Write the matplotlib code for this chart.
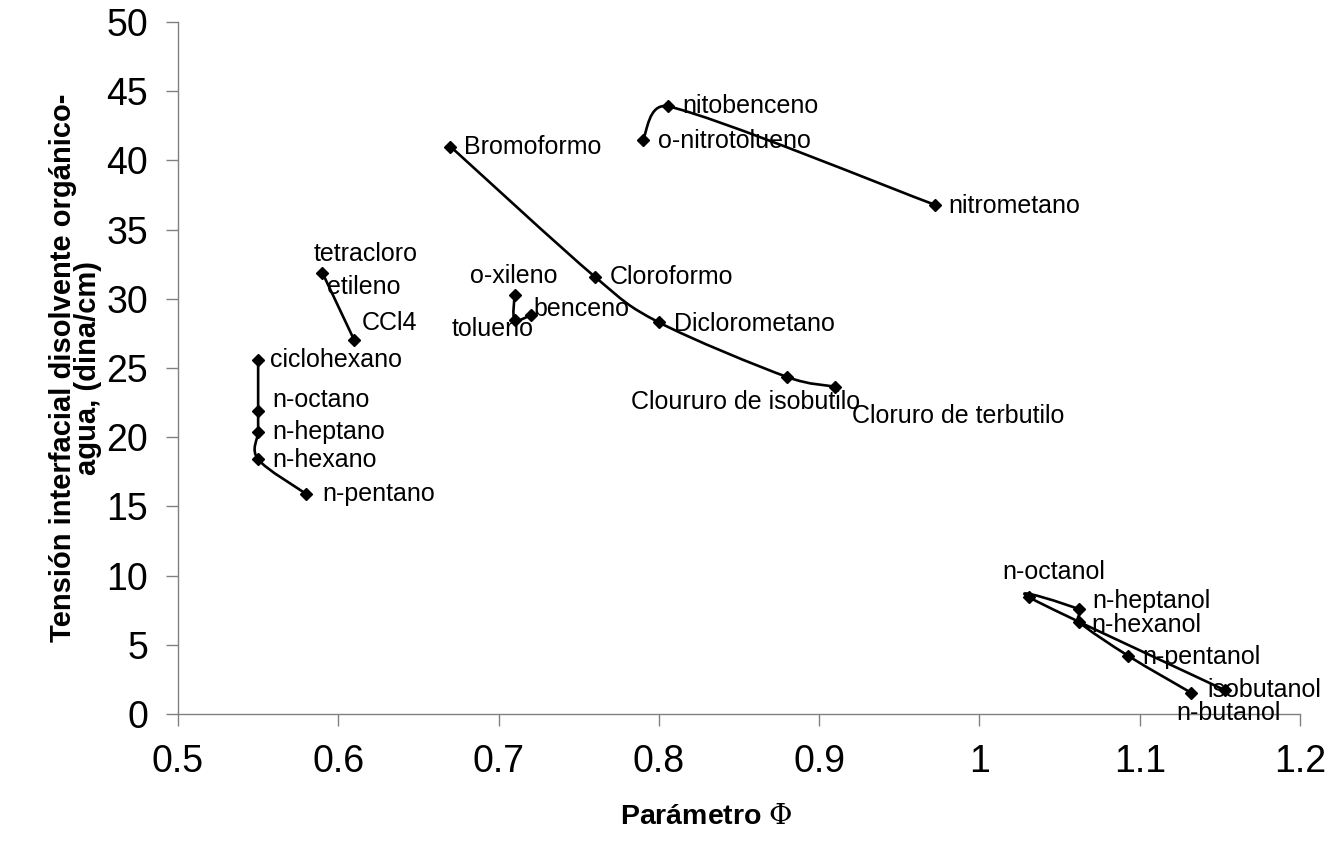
import numpy as np
import matplotlib
matplotlib.use("Agg")
import matplotlib.pyplot as plt
from matplotlib.path import Path
from matplotlib.patches import PathPatch

plt.rcParams['font.family'] = ['Liberation Sans', 'DejaVu Sans']
plt.rcParams['mathtext.fontset'] = 'dejavuserif'

# ---- data: parameter Phi vs. organic solvent / water interfacial tension ----
alkane_names = ["ciclohexano", "n-octano", "n-heptano", "n-hexano", "n-pentano"]
alkane_phi = [0.55, 0.55, 0.55, 0.55, 0.58]
alkane_tension = [25.6, 21.9, 20.4, 18.4, 15.9]

chloroalkene_names = ["tetracloro etileno", "CCl4"]
chloroalkene_phi = [0.59, 0.61]
chloroalkene_tension = [31.9, 27.0]

aromatic_names = ["o-xileno", "tolueno", "benceno"]
aromatic_phi = [0.71, 0.71, 0.72]
aromatic_tension = [30.3, 28.5, 28.8]

halo_names = ["Bromoformo", "Cloroformo", "Diclorometano",
              "Cloururo de isobutilo", "Cloruro de terbutilo"]
halo_phi = [0.67, 0.76, 0.80, 0.88, 0.91]
halo_tension = [41.0, 31.6, 28.3, 24.35, 23.65]

nitro_names = ["o-nitrotolueno", "nitobenceno", "nitrometano"]
nitro_phi = [0.79, 0.806, 0.972]
nitro_tension = [41.5, 43.9, 36.8]

alcohol_names = ["n-butanol", "n-pentanol", "n-hexanol",
                 "n-heptanol", "n-octanol", "isobutanol"]
alcohol_phi = [1.132, 1.093, 1.062, 1.062, 1.031, 1.153]
alcohol_tension = [1.54, 4.19, 6.67, 7.56, 8.43, 1.73]

x_ticks = [0.5, 0.6, 0.7, 0.8, 0.9, 1.0, 1.1, 1.2]
y_ticks = [0, 5, 10, 15, 20, 25, 30, 35, 40, 45, 50]

# ---- label placement (pixel offsets from the marker, y upwards) ----
label_layout = {
    "ciclohexano": [("ciclohexano", 12, 0, "left")],
    "n-octano": [("n-octano", 14, 11, "left")],
    "n-heptano": [("n-heptano", 14, 0, "left")],
    "n-hexano": [("n-hexano", 14, -1, "left")],
    "n-pentano": [("n-pentano", 16, 0, "left")],
    "tetracloro etileno": [("tetracloro", -9, 19, "left"),
                           ("etileno", 5, -14, "left")],
    "CCl4": [("CCl4", 7, 17, "left")],
    "o-xileno": [("o-xileno", -1, 19, "center")],
    "tolueno": [("tolueno", -22, -9, "center")],
    "benceno": [("benceno", 3, 6, "left")],
    "Bromoformo": [("Bromoformo", 14, 0, "left")],
    "Cloroformo": [("Cloroformo", 15, 0, "left")],
    "Diclorometano": [("Diclorometano", 15, -2, "left")],
    "Cloururo de isobutilo": [("Cloururo de isobutilo", -42, -25, "center")],
    "Cloruro de terbutilo": [("Cloruro de terbutilo", 17, -29, "left")],
    "nitobenceno": [("nitobenceno", 14, 0, "left")],
    "o-nitrotolueno": [("o-nitrotolueno", 15, -1, "left")],
    "nitrometano": [("nitrometano", 14, -1, "left")],
    "n-octanol": [("n-octanol", 25, 25, "center")],
    "n-heptanol": [("n-heptanol", 14, 8, "left")],
    "n-hexanol": [("n-hexanol", 13, -3, "left")],
    "n-pentanol": [("n-pentanol", 14, -1, "left")],
    "isobutanol": [("isobutanol", -17, 0, "left")],
    "n-butanol": [("n-butanol", 38, -20, "center")],
}


def smooth_path(ax, xs, ys):
    """Smoothed Bezier path through the points, built in screen space
    (control vectors limited to half of each segment)."""
    pts = ax.transData.transform(np.column_stack([xs, ys]).astype(float))
    n = len(pts)
    verts = [pts[0]]
    codes = [Path.MOVETO]
    for i in range(n - 1):
        p0 = pts[max(i - 1, 0)]
        p1 = pts[i]
        p2 = pts[i + 1]
        p3 = pts[min(i + 2, n - 1)]
        d12 = np.hypot(*(p2 - p1))
        d02 = np.hypot(*(p2 - p0))
        d13 = np.hypot(*(p3 - p1))
        f1 = min(1 / 6, 0.5 * d12 / d02) if d02 > 0 else 0
        f2 = min(1 / 6, 0.5 * d12 / d13) if d13 > 0 else 0
        c1 = p1 + (p2 - p0) * f1
        c2 = p2 - (p3 - p1) * f2
        verts += [c1, c2, p2]
        codes += [Path.CURVE4] * 3
    data_verts = ax.transData.inverted().transform(np.array(verts))
    return Path(data_verts, codes)


fig = plt.figure(figsize=(13.44, 8.48), dpi=100)
ax = fig.add_axes([178 / 1344, 1 - 714 / 848, 1122 / 1344, 692 / 848])
ax.set_xlim(0.5, 1.2)
ax.set_ylim(0, 50)

groups = [
    (alkane_names, alkane_phi, alkane_tension),
    (chloroalkene_names, chloroalkene_phi, chloroalkene_tension),
    (aromatic_names, aromatic_phi, aromatic_tension),
    (halo_names, halo_phi, halo_tension),
    (nitro_names, nitro_phi, nitro_tension),
    (alcohol_names, alcohol_phi, alcohol_tension),
]

for names, xs, ys in groups:
    ax.add_patch(PathPatch(smooth_path(ax, xs, ys), fill=False,
                           edgecolor="black", lw=1.9, zorder=2))
    ax.plot(xs, ys, linestyle="none", marker="D", ms=6.5,
            color="black", zorder=3, clip_on=False)
    for name, x, y in zip(names, xs, ys):
        for text, dx, dy, ha in label_layout[name]:
            ax.annotate(text, (x, y), xytext=(dx, dy),
                        textcoords="offset pixels", ha=ha, va="center",
                        fontsize=18, color="black", annotation_clip=False,
                        zorder=4)

ax.set_xticks(x_ticks)
ax.set_xticklabels([f"{v:g}" for v in x_ticks])
ax.set_yticks(y_ticks)
ax.set_yticklabels([str(v) for v in y_ticks])

for side in ("top", "right"):
    ax.spines[side].set_visible(False)
for side in ("left", "bottom"):
    ax.spines[side].set_color("#808080")
    ax.spines[side].set_linewidth(1.0)

ax.tick_params(axis="both", direction="out", length=8.5, width=1.0,
               color="#808080", labelsize=27, pad=13)

ax.set_ylabel("Tensión interfacial disolvente orgánico-\nagua, (dina/cm)",
              fontsize=21, fontweight="bold", linespacing=0.85)
ax.yaxis.set_label_coords(-0.068, 0.5)
ax.set_xlabel(r"Parámetro $\Phi$", fontsize=20.5, fontweight="bold")
ax.xaxis.set_label_coords(0.4706, -0.13)

fig.savefig("out.png", dpi=100, facecolor="white")
